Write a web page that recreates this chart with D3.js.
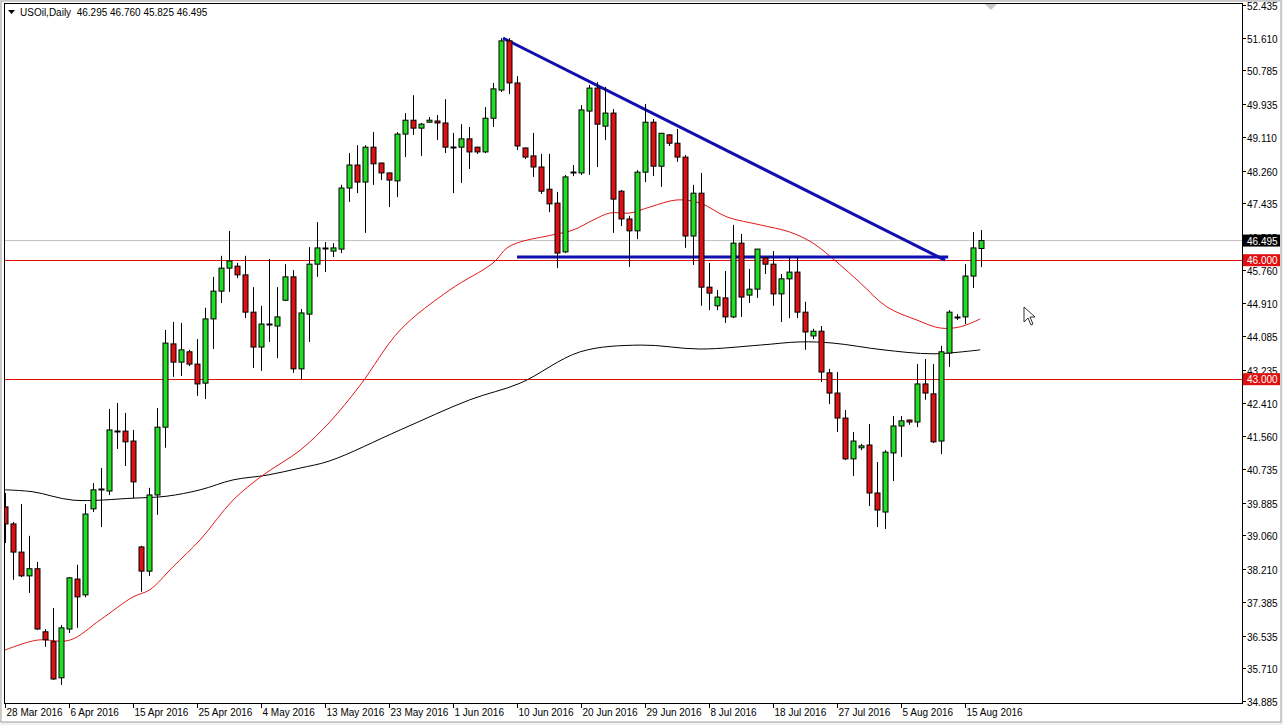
<!DOCTYPE html>
<html><head><meta charset="utf-8">
<script src="https://cdn.jsdelivr.net/npm/d3@7"></script>
<style>body{margin:0;background:#fff;overflow:hidden}svg{display:block}</style>
</head><body>
<svg id="c" width="1283" height="725"></svg>
<script>
const opens=[39.78,39.35,38.64,38.04,38.22,36.63,36.38,35.47,36.70,37.96,37.56,39.73,40.21,40.18,41.69,41.69,41.44,38.77,38.16,40.08,41.79,43.89,43.43,43.69,43.38,42.90,44.52,45.22,45.80,45.85,45.63,44.69,43.81,44.37,44.34,44.99,45.58,43.26,44.64,45.90,46.31,46.23,46.28,47.82,48.40,47.97,48.85,48.45,48.20,48.00,49.18,49.53,49.33,49.48,49.51,49.46,48.85,48.85,49.06,48.85,48.73,49.58,50.29,51.53,50.47,48.83,48.63,48.35,47.79,47.44,46.21,48.22,48.20,49.76,50.34,49.38,49.71,47.74,47.04,46.74,48.22,49.48,48.37,49.16,48.95,48.60,46.61,47.69,45.32,44.85,45.05,44.57,46.43,45.12,45.27,46.06,45.90,45.15,45.53,45.70,44.69,44.09,44.21,43.16,42.65,42.02,40.99,41.27,41.34,40.13,39.65,41.14,41.82,41.97,41.92,42.88,42.63,41.44,43.66,44.57,44.57,45.60,46.295];
const highs=[40.13,39.40,39.85,39.05,38.39,36.70,37.23,36.80,38.01,38.32,39.85,40.38,40.76,42.25,42.40,42.15,41.72,38.80,40.26,42.27,44.24,44.44,44.42,43.74,44.01,44.80,45.58,46.11,46.74,45.93,46.11,45.32,44.85,46.03,45.32,45.90,45.75,44.77,46.33,46.96,46.46,46.43,47.90,48.70,48.90,48.90,49.23,48.46,48.21,49.23,49.71,50.16,49.46,49.61,49.66,50.06,49.21,49.43,49.36,48.86,49.86,50.47,51.60,51.60,50.64,48.84,49.21,48.68,48.68,47.72,48.15,48.40,49.91,50.42,50.49,50.37,49.81,47.77,47.12,48.27,49.94,49.56,49.21,49.18,49.31,48.65,47.90,48.20,45.93,45.25,45.73,46.89,46.66,45.78,46.28,46.07,46.23,45.65,46.08,46.08,44.95,44.27,44.34,43.26,43.18,42.22,41.67,41.37,41.87,40.91,41.21,42.07,42.07,41.98,43.38,43.51,43.38,43.84,44.74,44.64,45.90,46.71,46.760];
const lows=[38.87,37.94,38.01,37.61,36.68,36.25,35.42,35.29,36.60,36.73,37.50,39.65,39.27,40.08,41.24,40.81,40.00,37.64,38.04,39.58,41.27,43.06,43.08,43.33,42.58,42.50,43.76,44.92,45.20,45.55,44.54,43.28,43.21,43.94,43.53,44.97,43.16,43.00,43.94,45.58,45.70,46.08,46.18,47.47,47.69,46.69,47.90,48.02,47.34,47.59,48.60,49.16,48.63,49.47,49.03,48.70,47.69,47.95,48.30,48.68,48.70,49.36,50.24,50.19,48.78,48.55,48.10,47.67,47.21,45.80,46.18,48.12,48.15,48.15,48.35,49.03,46.69,46.86,45.83,46.53,47.97,48.12,47.85,48.88,48.48,46.31,45.88,44.85,44.74,44.74,44.42,44.54,44.57,44.92,45.05,45.65,44.85,44.44,44.54,44.54,43.74,44.01,42.93,42.37,41.67,40.96,40.56,41.21,39.80,39.27,39.22,40.43,41.04,41.85,41.79,42.48,41.39,41.11,43.31,44.49,44.39,45.30,45.825];
const closes=[39.35,38.64,38.04,38.22,36.70,36.43,35.44,36.73,37.99,37.51,39.60,40.21,40.22,41.72,41.70,41.42,40.41,38.16,40.08,41.79,43.91,43.43,43.74,43.38,42.88,44.52,45.22,45.80,45.98,45.63,44.69,43.81,44.39,44.38,44.57,45.58,43.26,44.67,45.90,46.31,46.30,46.31,47.82,48.40,47.97,48.85,48.43,48.20,48.02,49.18,49.53,49.33,49.43,49.53,49.46,48.85,48.84,49.06,48.73,48.73,49.58,50.32,51.53,50.47,48.88,48.60,48.35,47.74,47.42,46.18,48.10,48.23,49.79,50.34,49.43,49.71,47.54,47.04,46.74,48.22,49.48,48.37,49.20,48.95,48.60,46.61,47.69,45.32,45.17,45.07,44.57,46.43,45.07,45.27,46.28,45.90,45.15,45.53,45.70,44.69,44.19,44.21,43.18,42.65,42.02,40.99,41.44,41.32,40.13,39.70,41.16,41.82,41.95,41.92,42.88,42.65,41.42,43.69,44.69,44.56,45.60,46.31,46.495];
const redMA=[[0,36.17],[4,36.42],[8.1,36.42],[11.9,36.93],[16,37.51],[18.1,37.69],[21,38.27],[24.4,38.95],[28.5,39.95],[32.25,40.58],[36.9,41.21],[40.6,41.92],[44.4,42.85],[49.4,44.24],[55.6,45.25],[61,45.93],[62.75,46.31],[64.4,46.46],[68.5,46.64],[71,46.76],[73.5,47.01],[75.6,47.19],[78.1,47.19],[80.6,47.34],[84,47.52],[86.9,47.44],[90.25,47.09],[94.4,46.89],[98.1,46.71],[101,46.43],[104,45.95],[106.9,45.43],[110.25,44.82],[114,44.49],[116.9,44.29],[119.4,44.32],[121.9,44.52]];
const blackMA=[[0,40.21],[3.5,40.16],[8.5,39.95],[16,40.00],[20.25,40.05],[24.4,40.21],[28.5,40.46],[32.75,40.58],[36.9,40.76],[40.6,40.94],[49.4,41.72],[58.1,42.48],[64.4,42.90],[71.9,43.69],[79.4,43.86],[86.9,43.76],[94.4,43.86],[99.4,43.94],[103.5,43.91],[109.75,43.74],[116,43.64],[121.9,43.74]];
const trendLine=[[62.25,51.60],[117.5,46.00]];
const supportLine=[[64,46.08],[117.9,46.08]];
const hLines=[46.0,43.0];
const lastPrice=46.495;
const yTicks=[52.435,51.610,50.785,49.935,49.110,48.260,47.435,46.585,45.760,44.910,44.085,43.235,42.410,41.560,40.735,39.885,39.060,38.210,37.385,36.535,35.710,34.885];
const xLabels=["28 Mar 2016","6 Apr 2016","15 Apr 2016","25 Apr 2016","4 May 2016","13 May 2016","23 May 2016","1 Jun 2016","10 Jun 2016","20 Jun 2016","29 Jun 2016","8 Jul 2016","18 Jul 2016","27 Jul 2016","5 Aug 2016","15 Aug 2016"];
const xLabelIdx=[0,8,16,24,32,40,48,56,64,72,80,88,96,104,112,120];
const header="USOil,Daily  46.295 46.760 45.825 46.495";

const svg=d3.select("#c");
const L=4,R=1242,T=3,B=703;
const x=d3.scaleLinear().domain([0,122]).range([5,981]);
const y=d3.scaleLinear().domain([34.885,52.435]).range([701,5]);
const F="'Liberation Sans', Arial, sans-serif";

svg.append("rect").attr("x",0).attr("y",0).attr("width",1283).attr("height",725).attr("fill","#f0f0f0");
svg.append("rect").attr("x",1).attr("y",1).attr("width",1280).attr("height",721).attr("fill","#fff").attr("stroke","#a0a0a0");
svg.append("defs").append("clipPath").attr("id","cp").append("rect").attr("x",L).attr("y",T).attr("width",R-L).attr("height",B-T);
const g=svg.append("g").attr("clip-path","url(#cp)");

g.append("line").attr("x1",L).attr("x2",R).attr("y1",y(lastPrice)).attr("y2",y(lastPrice)).attr("stroke","#c0c0c0");
hLines.forEach(v=>g.append("line").attr("x1",L).attr("x2",R).attr("y1",Math.round(y(v))+0.5).attr("y2",Math.round(y(v))+0.5).attr("stroke","#e01010"));

const ln=d3.line().x(d=>x(d[0])).y(d=>y(d[1])).curve(d3.curveCatmullRom);
g.append("path").attr("d",ln(blackMA)).attr("fill","none").attr("stroke","#000").attr("stroke-width",1);
g.append("path").attr("d",ln(redMA)).attr("fill","none").attr("stroke","#e01818").attr("stroke-width",1);

const ll=d3.line().x(d=>x(d[0])).y(d=>y(d[1]));
g.append("path").attr("d",ll(trendLine)).attr("stroke","#1010b0").attr("stroke-width",3).attr("fill","none");
g.append("path").attr("d",ll(supportLine)).attr("stroke","#1010b0").attr("stroke-width",3).attr("fill","none");

const data=opens.map((o,i)=>({i,o,h:highs[i],l:lows[i],c:closes[i]}));
const cg=g.append("g");
data.forEach(d=>{
  const cx=Math.round(x(d.i))+0.5;
  cg.append("line").attr("x1",cx).attr("x2",cx).attr("y1",y(d.h)).attr("y2",y(d.l)).attr("stroke","#000");
  const top=y(Math.max(d.o,d.c)),bot=y(Math.min(d.o,d.c));
  if(bot-top<1.5){
    cg.append("line").attr("x1",cx-3).attr("x2",cx+3).attr("y1",Math.round(top)+0.5).attr("y2",Math.round(top)+0.5).attr("stroke","#000").attr("stroke-width",2);
  } else {
    cg.append("rect").attr("x",cx-2.5).attr("y",top).attr("width",5).attr("height",bot-top)
      .attr("fill",d.c>=d.o?"#22dd22":"#dd1111").attr("stroke","#000").attr("stroke-width",1);
  }
});

svg.append("rect").attr("x",L+0.5).attr("y",T+0.5).attr("width",R-L).attr("height",B-T).attr("fill","none").attr("stroke","#000");
svg.append("path").attr("d","M985,4 L997,4 L991,10 Z").attr("fill","#c8c8c8");

yTicks.forEach(v=>{
  const yy=Math.round(y(v))+0.5;
  svg.append("line").attr("x1",R).attr("x2",R+4).attr("y1",yy).attr("y2",yy).attr("stroke","#000");
  svg.append("text").attr("x",R+5).attr("y",yy+4).text(v.toFixed(3)).attr("font-family",F).attr("font-size",10).attr("fill","#000");
});
function tag(v,bg){
  const yy=y(v);
  svg.append("rect").attr("x",R+1).attr("y",yy-6).attr("width",37).attr("height",12).attr("fill",bg);
  svg.append("text").attr("x",R+5).attr("y",yy+4).text(v.toFixed(3)).attr("font-family",F).attr("font-size",10).attr("fill","#fff");
}
tag(lastPrice,"#000");
hLines.forEach(v=>tag(v,"#e01010"));

xLabelIdx.forEach((k,j)=>{
  const xx=Math.round(x(k))+0.5;
  svg.append("line").attr("x1",xx).attr("x2",xx).attr("y1",B).attr("y2",B+5).attr("stroke","#000");
  svg.append("text").attr("x",xx+1).attr("y",716).text(xLabels[j]).attr("font-family",F).attr("font-size",10).attr("fill","#000");
});

svg.append("path").attr("d","M8,10 L15,10 L11.5,14 Z").attr("fill","#000");
svg.append("text").attr("x",20).attr("y",16).text(header).attr("font-family",F).attr("font-size",10).attr("fill","#000").style("white-space","pre");

svg.append("path").attr("d","M1024,307 L1024,322 L1028,318 L1031,325 L1033,324 L1030,317 L1035,317 Z").attr("fill","#fff").attr("stroke","#000").attr("stroke-width",0.8);
</script>
</body></html>
